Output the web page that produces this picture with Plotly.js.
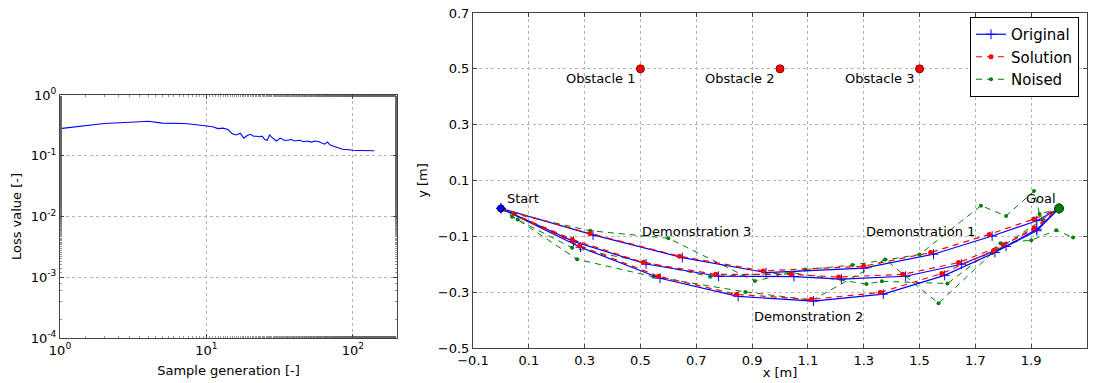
<!DOCTYPE html>
<html>
<head>
<meta charset="utf-8">
<script src="https://cdn.plot.ly/plotly-3.0.1.min.js"></script>
<style>html,body{margin:0;padding:0;background:#fff;}#chart{width:1097px;height:383px;}</style>
</head>
<body>
<div id="chart"></div>
<script>
// ---- Left panel: loss curve ----
const lossGen = [1,2,3,4,5,6,7,8,9,10,11,12,13,14,15,16,17,18,19,20,21,22,23,24,25,26,27,28,29,30,32,34,36,38,40,43,46,49,52,55,58,61,64,67,70,73,76,80,85,90,95,100,110,120,130,140];
const lossVal = [0.28,0.34,0.355,0.37,0.345,0.345,0.34,0.33,0.32,0.31,0.30,0.28,0.285,0.27,0.23,0.22,0.235,0.195,0.215,0.225,0.21,0.21,0.205,0.21,0.185,0.18,0.22,0.20,0.19,0.175,0.195,0.18,0.18,0.185,0.175,0.18,0.17,0.175,0.168,0.175,0.172,0.162,0.155,0.168,0.15,0.145,0.14,0.135,0.128,0.127,0.124,0.123,0.122,0.122,0.121,0.121];
const lossTickVals = [1,10,100];
const lossTickText = ['10<sup>0</sup>','10<sup>1</sup>','10<sup>2</sup>'];
const lossYTickVals = [1e-4,1e-3,1e-2,1e-1,1];
const lossYTickText = ['10<sup>-4</sup>','10<sup>-3</sup>','10<sup>-2</sup>','10<sup>-1</sup>','10<sup>0</sup>'];

// ---- Right panel: trajectories ----
// Demonstration (top curve)
const origAx = [0,0.33,0.65,0.95,1.30,1.55,1.76,1.92,2.0];
const origAy = [0,-0.095,-0.176,-0.230,-0.214,-0.164,-0.099,-0.044,0];
const solAx  = [0,0.32,0.64,0.94,1.30,1.54,1.75,1.91,2.0];
const solAy  = [0,-0.090,-0.171,-0.224,-0.207,-0.158,-0.093,-0.038,0];
const noiAx  = [0,0.05,0.32,0.60,0.91,1.09,1.26,1.50,1.72,1.81,1.91,1.93,2.0];
const noiAy  = [0,-0.02,-0.080,-0.107,-0.260,-0.219,-0.203,-0.165,0.010,-0.027,0.062,-0.020,0];
// Demonstration (middle curve)
const origBx = [0,0.26,0.52,0.78,1.05,1.22,1.45,1.65,1.81,1.92,2.0];
const origBy = [0,-0.118,-0.199,-0.243,-0.244,-0.253,-0.243,-0.200,-0.136,-0.080,0];
const solBx  = [0,0.255,0.51,0.77,1.04,1.21,1.44,1.64,1.80,1.91,2.0];
const solBy  = [0,-0.111,-0.194,-0.236,-0.236,-0.246,-0.236,-0.194,-0.131,-0.075,0];
const noiBx  = [0,0.04,0.255,0.511,0.75,1.04,1.31,1.365,1.60,1.79,1.90,1.99,2.05];
const noiBy  = [0,-0.03,-0.141,-0.191,-0.245,-0.230,-0.271,-0.261,-0.269,-0.125,-0.114,-0.078,-0.104];
// Demonstration (bottom curve)
const origCx = [0,0.285,0.57,0.85,1.12,1.37,1.59,1.77,1.92,2.0];
const origCy = [0,-0.139,-0.250,-0.315,-0.332,-0.307,-0.240,-0.158,-0.075,0];
const solCx  = [0,0.282,0.565,0.844,1.112,1.359,1.58,1.765,1.91,2.0];
const solCy  = [0,-0.134,-0.243,-0.308,-0.326,-0.301,-0.233,-0.152,-0.070,0];
const noiCx  = [0,0.06,0.273,0.547,0.876,1.115,1.377,1.568,1.76,1.94,2.0];
const noiCy  = [0,-0.04,-0.182,-0.245,-0.299,-0.329,-0.183,-0.340,-0.160,-0.040,0];

const obstacleX = [0.5,1.0,1.5];
const obstacleY = [0.5,0.5,0.5];
const obstacleLabels = ['Obstacle 1','Obstacle 2','Obstacle 3'];
const startX = [0], startY = [0];
const goalX = [2.0], goalY = [0];
const demoLabels = ['Demonstration 3','Demonstration 1','Demonstration 2'];
const demoLabelX = [0.5,1.30,0.90];
const demoLabelY = [-0.083,-0.081,-0.386];
const legendNames = ['Original','Solution','Noised'];

const FONT = 'DejaVu Sans, sans-serif';
const traces = [];
traces.push({x: lossGen, y: lossVal, xaxis:'x', yaxis:'y', mode:'lines',
  line:{color:'#0000ff', width:1.1}, showlegend:false, hoverinfo:'skip'});

const demos = [
  [origAx,origAy,solAx,solAy,noiAx,noiAy],
  [origBx,origBy,solBx,solBy,noiBx,noiBy],
  [origCx,origCy,solCx,solCy,noiCx,noiCy]
];
demos.forEach((d,i)=>{
  traces.push({x:d[4], y:d[5], xaxis:'x2', yaxis:'y2', mode:'lines+markers', name:legendNames[2],
    legendgroup:'n', showlegend:i===0, legendrank:3,
    line:{color:'#008000', width:1, dash:'6px,5px'}, marker:{color:'#008000', size:4}});
  traces.push({x:d[0], y:d[1], xaxis:'x2', yaxis:'y2', mode:'lines+markers', name:legendNames[0],
    legendgroup:'o', showlegend:i===0, legendrank:1,
    line:{color:'#0000ff', width:1.2}, marker:{symbol:'cross-thin', size:7, color:'#0000ff', line:{width:1, color:'#0000ff'}}});
  traces.push({x:d[2], y:d[3], xaxis:'x2', yaxis:'y2', mode:'lines+markers', name:legendNames[1],
    legendgroup:'s', showlegend:i===0, legendrank:2,
    line:{color:'#ff0000', width:1.2, dash:'6px,5px'}, marker:{color:'#ff0000', size:5}});
});
traces.push({x:obstacleX, y:obstacleY, xaxis:'x2', yaxis:'y2', mode:'markers', showlegend:false,
  marker:{color:'#ff0000', size:8, line:{color:'#800000', width:1}}});
traces.push({x:startX, y:startY, xaxis:'x2', yaxis:'y2', mode:'markers', showlegend:false,
  marker:{color:'#0000ff', size:7, line:{color:'#000060', width:1}}});
traces.push({x:goalX, y:goalY, xaxis:'x2', yaxis:'y2', mode:'markers', showlegend:false,
  marker:{color:'#008000', size:9, line:{color:'#004000', width:1}}});

const annotations = [];
obstacleLabels.forEach((t,i)=>annotations.push({text:t, x:obstacleX[i]-0.013, y:obstacleY[i]-0.036, xref:'x2', yref:'y2',
  xanchor:'right', yanchor:'middle', showarrow:false, font:{family:FONT, size:13, color:'#000'}}));
demoLabels.forEach((t,i)=>annotations.push({text:t, x:demoLabelX[i], y:demoLabelY[i], xref:'x2', yref:'y2',
  xanchor:'left', yanchor:'middle', showarrow:false, font:{family:FONT, size:13, color:'#000'}}));
annotations.push({text:'Start', x:startX[0]+0.015, y:startY[0]+0.037, xref:'x2', yref:'y2', xanchor:'left', yanchor:'middle', showarrow:false, font:{family:FONT, size:13, color:'#000'}});
annotations.push({text:'Goal', x:goalX[0]-0.125, y:goalY[0]+0.037, xref:'x2', yref:'y2', xanchor:'left', yanchor:'middle', showarrow:false, font:{family:FONT, size:13, color:'#000'}});

const axisCommon = {showline:true, linecolor:'#444', linewidth:1, mirror:'allticks', ticks:'inside', ticklen:4,
  tickcolor:'#444', tickwidth:1, showgrid:true, gridcolor:'#b4b4b4', griddash:'dot', gridwidth:1, zeroline:false,
  tickfont:{family:FONT, size:13, color:'#000'}};
const minorLog = {ticks:'inside', ticklen:2, tickcolor:'#666', tickwidth:0.7, showgrid:false};

const layout = {
  width:1097, height:383, margin:{l:0,r:0,t:0,b:0}, paper_bgcolor:'#fff', plot_bgcolor:'#fff',
  font:{family:FONT, size:13, color:'#000'},
  xaxis: Object.assign({}, axisCommon, {type:'log', range:[0, Math.log10(200)], domain:[60/1097, 397/1097],
    tickvals:lossTickVals, ticktext:lossTickText, anchor:'y', minor:minorLog,
    title:{text:'Sample generation [-]', font:{family:FONT, size:13}, standoff:9}}),
  yaxis: Object.assign({}, axisCommon, {type:'log', range:[-4, 0], domain:[1-338/383, 1-95/383],
    tickvals:lossYTickVals, ticktext:lossYTickText, anchor:'x', minor:minorLog,
    title:{text:'Loss value [-]', font:{family:FONT, size:13}, standoff:6}}),
  xaxis2: Object.assign({}, axisCommon, {range:[-0.1, 2.1], domain:[473/1097, 1087/1097], anchor:'y2',
    tickvals:[-0.1,0.1,0.3,0.5,0.7,0.9,1.1,1.3,1.5,1.7,1.9,2.1], tickformat:'.1f',
    title:{text:'x [m]', font:{family:FONT, size:13}, standoff:1}}),
  yaxis2: Object.assign({}, axisCommon, {range:[-0.5, 0.7], domain:[1-348/383, 1-13/383], anchor:'x2',
    tickvals:[-0.5,-0.3,-0.1,0.1,0.3,0.5,0.7], tickformat:'.1f',
    title:{text:'y [m]', font:{family:FONT, size:13}, standoff:7}}),
  legend:{x:1079/1097, y:1-17/383, xanchor:'right', yanchor:'top', bgcolor:'#fff', bordercolor:'#000', borderwidth:1,
    font:{family:FONT, size:15, color:'#000'}, tracegroupgap:0, traceorder:'normal'},
  annotations: annotations,
  showlegend:true
};
Plotly.newPlot('chart', traces, layout, {displayModeBar:false, staticPlot:true});
</script>
</body>
</html>
